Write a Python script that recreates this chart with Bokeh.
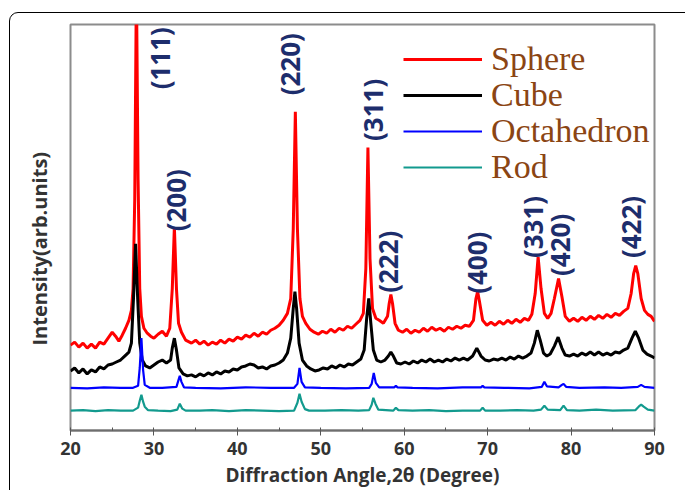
from math import pi
from bokeh.plotting import figure
from bokeh.models import (Range1d, SingleIntervalTicker, Legend, LegendItem,
                          ColumnDataSource, Title, InlineStyleSheet)
from bokeh.core.properties import value
from bokeh.embed import file_html
from bokeh.resources import INLINE

# ---------------- data (2-theta in degrees, intensity in arb. units) -------------
sphere_x = [20.0, 20.5, 21.0, 21.5, 22.0, 22.5, 23.0, 23.5, 24.0, 24.5, 25.0, 25.4, 25.8, 26.2, 26.6,
            27.0, 27.3, 27.5, 27.7, 27.9, 28.1, 28.3, 28.5, 28.8, 29.2, 29.6, 30.0, 30.5, 31.0, 31.5,
            31.9, 32.2, 32.45, 32.7, 32.95, 33.3, 33.8, 34.5, 35.0, 35.5, 36.0, 36.5, 37.0, 37.5, 38.0,
            38.5, 39.0, 39.5, 40.0, 40.5, 41.0, 41.5, 42.0, 42.5, 43.0, 43.5, 44.0, 44.5, 45.0, 45.5,
            46.0, 46.4, 46.7, 46.95, 47.2, 47.5, 47.8, 48.2, 48.7, 49.2, 49.7, 50.2, 50.7, 51.2, 51.7,
            52.2, 52.7, 53.2, 53.7, 54.2, 54.7, 55.1, 55.4, 55.65, 55.9, 56.2, 56.6, 57.0, 57.5, 58.0,
            58.2, 58.4, 58.6, 58.9, 59.3, 59.8, 60.3, 60.8, 61.3, 61.8, 62.3, 62.8, 63.3, 63.8, 64.3,
            64.8, 65.3, 65.8, 66.3, 66.8, 67.3, 67.8, 68.3, 68.6, 68.8, 69.0, 69.4, 69.9, 70.4, 70.9,
            71.4, 71.9, 72.4, 72.9, 73.4, 73.9, 74.4, 74.9, 75.3, 75.7, 76.05, 76.4, 76.8, 77.2, 77.6,
            78.0, 78.5, 78.9, 79.3, 79.8, 80.3, 80.8, 81.3, 81.8, 82.3, 82.8, 83.3, 83.8, 84.3, 84.8,
            85.3, 85.8, 86.3, 86.8, 87.2, 87.5, 87.75, 88.0, 88.4, 88.8, 89.2, 89.6, 90.0]
sphere_y = [86, 89, 84, 88, 83, 87, 83, 89, 87, 93, 99, 95, 90, 96, 103,
            111, 121, 143, 233, 453, 253, 143, 115, 103, 98, 95, 93, 97, 100, 95,
            103, 143, 205, 143, 108, 99, 91, 88, 91, 87, 90, 86, 89, 87, 91,
            88, 92, 90, 94, 92, 96, 94, 98, 95, 99, 97, 101, 103, 106, 111,
            118, 133, 203, 321, 203, 133, 115, 108, 102, 99, 97, 100, 98, 102, 99,
            103, 101, 105, 103, 107, 111, 118, 163, 285, 173, 123, 113, 111, 108, 115,
            128, 137, 128, 108, 101, 99, 102, 98, 101, 99, 103, 100, 104, 101, 103,
            100, 104, 102, 105, 103, 106, 105, 111, 133, 140, 131, 111, 106, 109, 106,
            110, 107, 111, 108, 112, 109, 113, 111, 117, 138, 175, 143, 118, 113, 118,
            133, 153, 135, 115, 110, 113, 110, 114, 111, 115, 112, 116, 113, 117, 114,
            118, 116, 120, 123, 138, 158, 166, 158, 133, 121, 117, 115, 110]

cube_x = [20.0, 20.5, 21.0, 21.5, 22.0, 22.5, 23.0, 23.5, 24.0, 24.5, 25.0, 25.5, 26.0, 26.5, 27.0,
          27.3, 27.55, 27.8, 28.05, 28.3, 28.6, 29.0, 29.5, 30.0, 30.5, 31.0, 31.5, 32.0, 32.2, 32.45,
          32.7, 33.0, 33.5, 34.0, 34.5, 35.0, 35.5, 36.0, 36.5, 37.0, 37.5, 38.0, 38.5, 39.0, 39.5,
          40.0, 40.5, 41.0, 41.5, 42.0, 42.5, 43.0, 43.5, 44.0, 44.5, 45.0, 45.5, 46.0, 46.4, 46.7,
          46.9, 47.1, 47.4, 47.8, 48.3, 48.8, 49.3, 49.8, 50.3, 50.8, 51.3, 51.8, 52.3, 52.8, 53.3,
          53.8, 54.3, 54.8, 55.2, 55.5, 55.75, 56.0, 56.3, 56.7, 57.2, 57.7, 58.1, 58.4, 58.7, 59.1,
          59.6, 60.1, 60.6, 61.1, 61.6, 62.1, 62.6, 63.1, 63.6, 64.1, 64.6, 65.1, 65.6, 66.1, 66.6,
          67.1, 67.6, 68.2, 68.7, 69.2, 69.7, 70.2, 70.7, 71.2, 71.7, 72.2, 72.7, 73.2, 73.7, 74.2,
          74.7, 75.2, 75.6, 75.95, 76.3, 76.7, 77.1, 77.5, 78.0, 78.45, 78.9, 79.3, 79.8, 80.3, 80.8,
          81.3, 81.8, 82.3, 82.8, 83.3, 83.8, 84.3, 84.8, 85.3, 85.8, 86.3, 86.8, 87.3, 87.7, 88.1,
          88.6, 89.1, 89.6, 90.0]
cube_y = [60, 63, 58, 62, 57, 61, 59, 64, 62, 66, 67, 69, 71, 75, 79,
          88, 133, 188, 133, 88, 71, 65, 63, 66, 69, 71, 68, 71, 83, 93,
          81, 63, 57, 55, 56, 54, 57, 55, 58, 56, 59, 57, 60, 59, 62,
          61, 64, 65, 67, 66, 63, 64, 62, 65, 66, 68, 71, 78, 93, 123,
          140, 123, 88, 71, 65, 62, 60, 61, 63, 62, 65, 63, 66, 64, 67,
          66, 69, 72, 81, 113, 133, 108, 81, 71, 69, 71, 75, 79, 75, 68,
          67, 69, 67, 70, 68, 71, 69, 72, 69, 71, 69, 72, 70, 73, 71,
          73, 71, 75, 83, 75, 71, 70, 72, 71, 73, 71, 74, 72, 75, 73,
          75, 78, 88, 101, 91, 78, 75, 77, 85, 94, 83, 76, 75, 77, 75,
          78, 76, 79, 76, 79, 76, 78, 76, 79, 78, 81, 83, 93, 100, 93,
          81, 77, 75, 73]

octa_x = [20.0, 22.0, 24.0, 26.0, 27.5, 28.1, 28.3, 28.5, 28.7, 28.9, 29.5, 31.0, 32.7, 32.95, 33.1,
          33.3, 33.6, 35.0, 38.0, 41.0, 44.0, 46.8, 47.2, 47.45, 47.7, 48.1, 50.0, 53.0, 55.8, 56.1,
          56.35, 56.6, 57.0, 58.8, 59.0, 59.2, 61.0, 64.0, 67.0, 69.2, 69.4, 69.6, 72.0, 75.0, 76.5,
          76.8, 77.1, 78.5, 78.9, 79.1, 79.4, 81.0, 84.0, 86.0, 88.0, 88.4, 88.8, 90.0]
octa_y = [43, 42.5, 43.5, 43, 43, 45, 63, 93, 61, 46, 43, 43, 44, 51, 55,
          49, 43.5, 43, 42.5, 43.5, 43, 43, 47, 63, 49, 43.5, 43, 42.5, 43, 47,
          58, 48, 43.5, 43.5, 45, 43.5, 43, 42.5, 43.5, 43.5, 45, 43.5, 43, 42.5, 44,
          49, 44.5, 43.5, 46, 47, 44, 43, 43.5, 43, 44, 46, 44, 43]

rod_x = [20.0, 21.5, 23.0, 24.5, 26.0, 27.5, 28.1, 28.3, 28.5, 28.7, 28.9, 29.3, 30.5, 32.0, 32.8,
         33.1, 33.4, 33.8, 35.5, 37.0, 39.0, 41.0, 43.0, 45.0, 46.8, 47.2, 47.45, 47.7, 48.1, 48.6,
         50.5, 52.5, 54.5, 55.8, 56.1, 56.3, 56.55, 56.9, 58.7, 59.0, 59.3, 61.0, 63.0, 65.0, 67.0,
         69.1, 69.4, 69.7, 71.5, 73.5, 75.5, 76.4, 76.8, 77.2, 78.7, 79.1, 79.5, 81.0, 83.0, 85.0,
         87.7, 88.1, 88.4, 88.7, 89.2, 90.0]
rod_y = [20, 20.5, 19.5, 20.5, 20, 20, 23, 30, 36, 29, 24, 20.5, 20, 19.5, 21,
         27, 22, 20, 20, 20.5, 19.5, 20.5, 20, 19.5, 20, 28, 37, 29, 21.5, 20,
         20, 20.5, 20, 20.5, 26, 33, 27, 21, 20, 23, 20.5, 20, 20.5, 19.5, 20,
         20, 23, 20, 20, 20.5, 20, 21, 25, 21, 20.5, 25, 20.5, 20, 21, 20,
         20.5, 24, 26, 24, 21, 20]

series_names = ["Sphere", "Cube", "Octahedron", "Rod"]

peak_labels = ["(111)", "(200)", "(220)", "(311)", "(222)", "(400)", "(331)", "(420)", "(422)"]
peak_label_x = [30.7, 32.6, 46.3, 56.3, 58.1, 68.7, 75.4, 78.7, 87.2]
peak_label_y = [375, 232, 369, 323, 170, 169, 205, 187, 205]

x_ticks_interval = 10

# ---------------- figure -----------------------------------------------------
W, H = 685, 490
p = figure(width=W, height=H, output_backend="svg", toolbar_location=None,
           x_range=Range1d(20, 90), y_range=Range1d(0, 409),
           min_border_left=70, min_border_right=31, min_border_top=24, min_border_bottom=57)
# outer rounded picture frame (its right/bottom sides lie outside the window)
p.stylesheets = [InlineStyleSheet(css="""
:host { position: relative; overflow: hidden; }
:host::after { content: ""; position: absolute; left: 9px; top: 12px;
               width: 2000px; height: 2000px; border: 1px solid #000;
               border-radius: 9px; pointer-events: none; }
""")]
p.grid.visible = False
p.background_fill_color = "white"
p.border_fill_color = "white"
p.outline_line_color = "#8c8c8c"
p.outline_line_width = 2

r_sph = p.line(sphere_x, sphere_y, line_color="#ff0000", line_width=3)
r_cub = p.line(cube_x, cube_y, line_color="#000000", line_width=3)
r_oct = p.line(octa_x, octa_y, line_color="#0000ff", line_width=2.2)
r_rod = p.line(rod_x, rod_y, line_color="#129a8e", line_width=2.2)

src = ColumnDataSource(dict(x=peak_label_x, y=peak_label_y, t=peak_labels))
p.text(x="x", y="y", text="t", source=src, angle=pi / 2,
       text_font=value("Open Sans"), text_font_style="bold", text_font_size="26px",
       text_color="#1d2d6c", text_align="center", text_baseline="middle")

# x axis
xa = p.xaxis[0]
xa.ticker = SingleIntervalTicker(interval=x_ticks_interval, num_minor_ticks=2)
xa.axis_line_color = "#6e6e6e"
xa.axis_line_width = 2
xa.major_tick_line_color = "#555555"
xa.major_tick_out = 5
xa.major_tick_in = 0
xa.minor_tick_line_color = "#555555"
xa.minor_tick_in = 3
xa.minor_tick_out = 0
xa.major_label_text_font = "Open Sans"
xa.major_label_text_font_style = "bold"
xa.major_label_text_font_size = "18px"
xa.major_label_text_color = "#333333"
xa.major_label_standoff = 6
xa.axis_label = "Diffraction Angle,2θ (Degree)"
xa.axis_label_text_font = "Open Sans"
xa.axis_label_text_font_style = "bold"
xa.axis_label_text_font_size = "19px"
xa.axis_label_text_color = "#333333"
xa.axis_label_standoff = 4

# y axis: no ticks; its title sits left of the frame, a little below centre
p.yaxis.visible = False
p.add_layout(Title(text="Intensity(arb.units)", align="left", offset=85,
                   text_font="Open Sans", text_font_style="bold", text_font_size="20px",
                   text_color="#333333", standoff=36), "left")

# legend: one entry per legend box so the rows can sit 36 px apart
renderers = [r_sph, r_cub, r_oct, r_rod]
legend_bottoms = [352, 316, 280, 244]
for name, r, yb in zip(series_names, renderers, legend_bottoms):
    lg = Legend(items=[LegendItem(label=name, renderers=[r])],
                location=(333, yb), orientation="vertical",
                label_text_font="Liberation Serif", label_text_font_size="34px",
                label_text_color="#8b4513", glyph_width=79, glyph_height=34,
                label_height=34, label_standoff=9, spacing=0, padding=0, margin=0,
                border_line_color=None, background_fill_alpha=0)
    p.add_layout(lg)

open("out.html", "w").write(file_html(p, INLINE))
